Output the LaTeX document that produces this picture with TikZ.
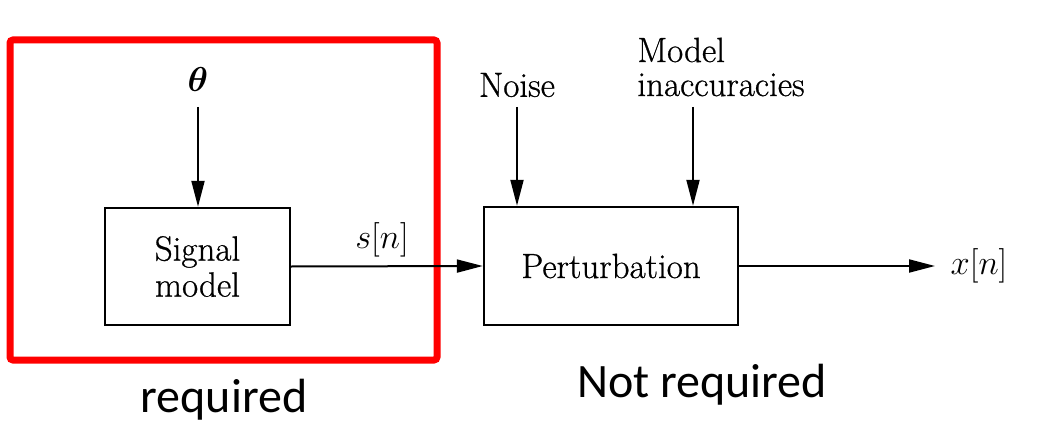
\documentclass[tikz,border=0pt]{standalone}
\usepackage{amsmath}
\usepackage{bm}
\usepackage{fontspec}
\setmainfont{Latin Modern Roman}[FakeBold=0.7]
\newfontfamily\calib{Carlito}
\usetikzlibrary{arrows.meta}
\begin{document}
\begin{tikzpicture}[x=0.5pt,y=-0.5pt,
  blk/.style={draw,line width=1.2pt,inner sep=0pt,align=center,font=\fontsize{17.5}{18}\selectfont},
  lbl/.style={inner sep=0pt,font=\fontsize{17.5}{17}\selectfont},
  mlbl/.style={inner sep=0pt,font=\fontsize{16}{17}\selectfont},
  arr/.style={line width=1pt,-{Triangle[length=13pt,width=6.5pt]}},
  redbox/.style={draw=red,line width=3.5pt,rounded corners=1.5pt},
  captxt/.style={inner sep=0pt,font=\calib\fontsize{24}{26}\selectfont}]
\useasboundingbox[fill=white] (0,0) rectangle (1047,422);
\draw[redbox] (10,40) rectangle (437,360);
\node[blk,minimum width=92.5pt,minimum height=58.5pt] (sig) at (197.5,266.5) {Signal\\model};
\node[blk,minimum width=127pt,minimum height=59pt] (pert) at (611,266) {Perturbation};
\node[mlbl] (theta) at (198,80) {$\bm{\theta}$};
\node[lbl] (noise) at (517,85) {Noise};
\node[lbl,align=left,anchor=west] (mi) at (637,67) {Model\\inaccuracies};
\node[mlbl] (sn) at (382,240) {$s[n]$};
\node[mlbl] (xn) at (979,266) {$x[n]$};
\coordinate (thA) at (198,107);
\coordinate (nA) at (517,107);
\coordinate (mA) at (693,107);
\coordinate (xo) at (935,266);
\draw[arr] (thA) -- (thA |- sig.north);
\draw[arr] (nA) -- (nA |- pert.north);
\draw[arr] (mA) -- (mA |- pert.north);
\draw[arr] (sig.east) -- (pert.west);
\draw[arr] (pert.east) -- (xo);
\node[captxt] (req) at (224,400) {required};
\node[captxt] (nreq) at (702,385) {Not required};
\end{tikzpicture}
\end{document}
